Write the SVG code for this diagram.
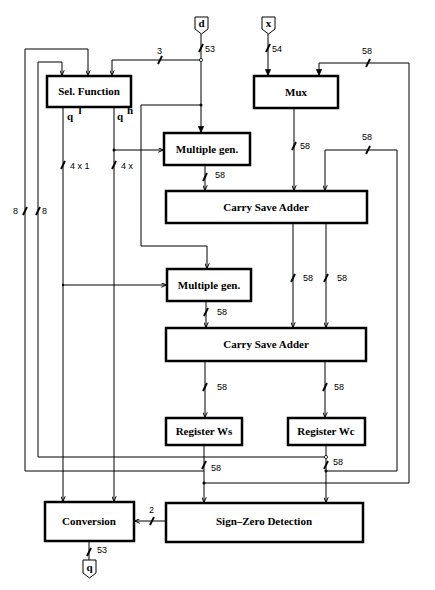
<svg xmlns="http://www.w3.org/2000/svg" width="435" height="590" viewBox="0 0 435 590">
<style>
.box{fill:#fff;stroke:#000;stroke-width:2.5}
.bl{font-family:"Liberation Serif","Times New Roman",serif;font-weight:bold;font-size:11px;text-anchor:middle;fill:#000}
.w{fill:none;stroke:#000;stroke-width:1}
.t{stroke:#000;stroke-width:1.8}
.lb{font-family:"Liberation Sans",Arial,sans-serif;font-size:9px;fill:#000}
.term{fill:#fff;stroke:#000;stroke-width:1}
</style>
<defs>
<marker id="a" viewBox="0 0 8 8" refX="7.5" refY="4" markerWidth="5" markerHeight="5" markerUnits="userSpaceOnUse" orient="auto">
<path d="M0,0.5 L8,4 L0,7.5" fill="none" stroke="#000" stroke-width="1.6"/>
</marker>
<marker id="f" viewBox="0 0 8 8" refX="7.5" refY="4" markerWidth="6" markerHeight="6" markerUnits="userSpaceOnUse" orient="auto">
<path d="M0,0.5 L8,4 L0,7.5 Z" fill="#000" stroke="#000"/>
</marker>
</defs>
<rect width="435" height="590" fill="#fff"/>

<g id="connectors">
<path class="w" d="M201,34 V132" marker-end="url(#f)"/>
<path class="w" d="M201,60 H112 V75" marker-end="url(#a)"/>
<path class="w" d="M201,105 H141 V246 H207 V268" marker-end="url(#a)"/>
<path class="w" d="M204,471 H25 V49 H88 V75" marker-end="url(#a)"/>
<path class="w" d="M326,457 H38 V62 H62 V75" marker-end="url(#a)"/>
<path class="w" d="M63,107 V501" marker-end="url(#a)"/>
<path class="w" d="M63,285 H166" marker-end="url(#a)"/>
<path class="w" d="M114,107 V501" marker-end="url(#a)"/>
<path class="w" d="M114,150 H163" marker-end="url(#a)"/>
<path class="w" d="M205,165 V190" marker-end="url(#a)"/>
<path class="w" d="M268,34 V75" marker-end="url(#f)"/>
<path class="w" d="M294,108 V190" marker-end="url(#a)"/>
<path class="w" d="M204,483 H409 V63 H319 V75" marker-end="url(#f)"/>
<path class="w" d="M326,471 H397 V150 H325 V190" marker-end="url(#a)"/>
<path class="w" d="M293,223 V327" marker-end="url(#a)"/>
<path class="w" d="M326,223 V327" marker-end="url(#a)"/>
<path class="w" d="M206,301 V327" marker-end="url(#a)"/>
<path class="w" d="M205,361 V417" marker-end="url(#a)"/>
<path class="w" d="M325,361 V417" marker-end="url(#a)"/>
<path class="w" d="M204,445 V502" marker-end="url(#a)"/>
<path class="w" d="M326,445 V502" marker-end="url(#a)"/>
<path class="w" d="M166,521 H135" marker-end="url(#a)"/>
<path class="w" d="M89,541 V560"/>
<circle cx="201" cy="60" r="1.6" fill="#fff" stroke="#000" stroke-width="0.8"/>
<circle cx="326" cy="457" r="1.6" fill="#fff" stroke="#000" stroke-width="0.8"/>
<circle cx="201" cy="105" r="1.5" fill="#000"/>
<circle cx="114" cy="150" r="1.5" fill="#000"/>
<circle cx="63" cy="285" r="1.2" fill="#000"/>
<circle cx="204" cy="483" r="1.5" fill="#000"/>
<circle cx="326" cy="471" r="1.5" fill="#000"/>
<g>
<line class="t" x1="199" y1="52" x2="203" y2="44"/>
<line class="t" x1="158" y1="64" x2="162" y2="56"/>
<line class="t" x1="266" y1="52" x2="270" y2="44"/>
<line class="t" x1="366" y1="67" x2="370" y2="59"/>
<line class="t" x1="366" y1="154" x2="370" y2="146"/>
<line class="t" x1="292" y1="150" x2="296" y2="142"/>
<line class="t" x1="203" y1="181" x2="207" y2="173"/>
<line class="t" x1="61" y1="169" x2="65" y2="161"/>
<line class="t" x1="112" y1="169" x2="116" y2="161"/>
<line class="t" x1="23" y1="215" x2="27" y2="207"/>
<line class="t" x1="36" y1="215" x2="40" y2="207"/>
<line class="t" x1="291" y1="282" x2="295" y2="274"/>
<line class="t" x1="324" y1="282" x2="328" y2="274"/>
<line class="t" x1="204" y1="316" x2="208" y2="308"/>
<line class="t" x1="203" y1="391" x2="207" y2="383"/>
<line class="t" x1="323" y1="391" x2="327" y2="383"/>
<line class="t" x1="202" y1="469" x2="206" y2="461"/>
<line class="t" x1="324" y1="469" x2="328" y2="461"/>
<line class="t" x1="150" y1="525" x2="154" y2="517"/>
<line class="t" x1="87" y1="556" x2="91" y2="548"/>
</g>
<g>
<text class="lb" x="205" y="52">53</text>
<text class="lb" x="157" y="54">3</text>
<text class="lb" x="272" y="52">54</text>
<text class="lb" x="362" y="54">58</text>
<text class="lb" x="362" y="140">58</text>
<text class="lb" x="300" y="149">58</text>
<text class="lb" x="215" y="178">58</text>
<text class="lb" x="70" y="169" font-size="8">4 x 1</text>
<text class="lb" x="121" y="169" font-size="8">4 x</text>
<text class="lb" x="13" y="214">8</text>
<text class="lb" x="42" y="214">8</text>
<text class="lb" x="303" y="281">58</text>
<text class="lb" x="337" y="281">58</text>
<text class="lb" x="217" y="315">58</text>
<text class="lb" x="217" y="390">58</text>
<text class="lb" x="334" y="390">58</text>
<text class="lb" x="211" y="471">58</text>
<text class="lb" x="333" y="465">58</text>
<text class="lb" x="149" y="513">2</text>
<text class="lb" x="97" y="553">53</text>
</g>
</g>

<g id="d-in"><path class="term" d="M195,17 H208 V29 L201.5,34 L195,29 Z"/><text class="bl" x="201.5" y="27">d</text></g>
<g id="x-in"><path class="term" d="M262,17 H275 V29 L268.5,34 L262,29 Z"/><text class="bl" x="268.5" y="27">x</text></g>
<g id="q-out"><path class="term" d="M83,560 H96 V573 L89.5,578 L83,573 Z"/><text class="bl" x="89.5" y="571">q</text></g>

<g id="sel"><rect class="box" x="47" y="76" width="84" height="31"/><text class="bl" x="89" y="95">Sel. Function</text>
<text class="bl" x="70" y="120" font-size="12">q</text><text class="bl" x="80" y="114" font-size="10">l</text>
<text class="bl" x="120" y="120" font-size="12">q</text><text class="bl" x="130" y="114" font-size="10">h</text></g>
<g id="mux"><rect class="box" x="254" y="76" width="84" height="32"/><text class="bl" x="296" y="96">Mux</text></g>
<g id="mg1"><rect class="box" x="164" y="133" width="86" height="32"/><text class="bl" x="207" y="153">Multiple gen.</text></g>
<g id="csa1"><rect class="box" x="166" y="191" width="201" height="32"/><text class="bl" x="266" y="211">Carry Save Adder</text></g>
<g id="mg2"><rect class="box" x="167" y="269" width="84" height="32"/><text class="bl" x="209" y="289">Multiple gen.</text></g>
<g id="csa2"><rect class="box" x="166" y="328" width="200" height="33"/><text class="bl" x="266" y="348">Carry Save Adder</text></g>
<g id="rws"><rect class="box" x="166" y="418" width="76" height="27"/><text class="bl" x="204" y="435">Register Ws</text></g>
<g id="rwc"><rect class="box" x="288" y="418" width="77" height="27"/><text class="bl" x="326" y="435">Register Wc</text></g>
<g id="szd"><rect class="box" x="166" y="503" width="197" height="39"/><text class="bl" x="264" y="525">Sign–Zero Detection</text></g>
<g id="conv"><rect class="box" x="45" y="502" width="89" height="39"/><text class="bl" x="89" y="525">Conversion</text></g>
</svg>
